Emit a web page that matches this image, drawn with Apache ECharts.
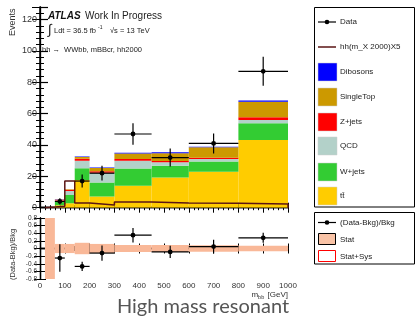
<!DOCTYPE html>
<html>
<head>
<meta charset="utf-8">
<script src="https://cdn.jsdelivr.net/npm/echarts@6/dist/echarts.min.js"></script>
<style>
  html, body { margin: 0; padding: 0; background: #fff; }
  #chart { width: 416px; height: 321px; }
</style>
</head>
<body>
<div id="chart"></div>
<script>
// bin edges in m_bb [GeV]
const binEdges = [20, 60, 100, 140, 200, 300, 450, 600, 800, 1000]

// background stack, bottom to top (events per bin)
const ttbar     = [0.1, 1.5, 2.8, 17.7, 7.2, 14.0, 19.2, 23.0, 43.2]
const wjets     = [0.1, 2.5, 5.3, 7.5, 8.8, 11.0, 7.6, 6.4, 10.7]
const qcd       = [0.05, 0.6, 2.5, 4.8, 6.3, 5.0, 2.2, 1.7, 2.1]
const zjets     = [0.02, 0.5, 0.9, 1.2, 1.0, 1.0, 0.8, 0.8, 1.7]
const singleTop = [0.02, 0.2, 0.2, 1.2, 2.0, 3.5, 5.0, 6.7, 9.9]
const dibosons  = [0.01, 0.1, 0.1, 0.3, 0.3, 0.5, 0.5, 0.3, 0.7]

// signal hh(m_X 2000) x5
const signal = [0.4, 1.0, 17.0, 3.0, 1.8, 3.7, 3.0, 2.8, 2.4]

// data (null = empty bin)
const dataCounts = [null, 4, null, 17, 22, 47, 32, 41, 87]
const dataErr    = [0, 2.0, 0, 4.1, 4.7, 6.9, 5.7, 6.4, 9.3]

// ratio panel
const ratio      = [null, -0.25, null, -0.47, -0.12, 0.35, -0.09, 0.05, 0.28]
const ratioErr   = [0, 0.36, 0, 0.12, 0.2, 0.19, 0.16, 0.18, 0.13]
const statErr    = [2.0, 0.12, 0.12, 0.15, 0.12, 0.09, 0.09, 0.088, 0.07]

const mainTicks  = [0, 20, 40, 60, 80, 100, 120]
const ratioTicks = [-0.8, -0.6, -0.4, -0.2, 0, 0.2, 0.4, 0.6, 0.8]

const layers = [
  { name: 'tt̄',       values: ttbar,     color: '#ffcc00' },
  { name: 'W+jets',    values: wjets,     color: '#33cc33' },
  { name: 'QCD',       values: qcd,       color: '#b3d1c9' },
  { name: 'Z+jets',    values: zjets,     color: '#ff0000' },
  { name: 'SingleTop', values: singleTop, color: '#cc9900' },
  { name: 'Dibosons',  values: dibosons,  color: '#0000ff' },
]

const FONT = 'Liberation Sans, Arial, sans-serif'

// stacked rectangles
const cum = binEdges.slice(1).map(() => 0)
const stackSeries = layers.map(l => {
  const rows = l.values.map((v, i) => {
    const lo = cum[i]
    cum[i] += v
    return [binEdges[i], binEdges[i + 1], lo, cum[i]]
  })
  return {
    type: 'custom', name: l.name, xAxisIndex: 0, yAxisIndex: 0,
    data: rows, encode: { x: [0, 1], y: [2, 3] }, clip: true,
    renderItem: (params, api) => {
      const a = api.coord([api.value(0), api.value(3)])
      const b = api.coord([api.value(1), api.value(2)])
      return { type: 'rect', shape: { x: a[0], y: a[1], width: b[0] - a[0], height: b[1] - a[1] },
        style: { fill: l.color } }
    },
  }
})

const sigLine = [[binEdges[0], 0]]
signal.forEach((v, i) => sigLine.push([binEdges[i], v]))
sigLine.push([binEdges[binEdges.length - 1], signal[signal.length - 1]])
sigLine.push([binEdges[binEdges.length - 1], 0])

function errorSeries(vals, errs, xi, yi) {
  const rows = []
  vals.forEach((v, i) => {
    if (v == null) return
    rows.push([binEdges[i], binEdges[i + 1], (binEdges[i] + binEdges[i + 1]) / 2, v, errs[i]])
  })
  return {
    type: 'custom', xAxisIndex: xi, yAxisIndex: yi, data: rows, z: 5,
    encode: { x: [0, 1], y: 3 },
    renderItem: (params, api) => {
      const y = api.value(3), e = api.value(4)
      const l = api.coord([api.value(0), y]), r = api.coord([api.value(1), y])
      const t = api.coord([api.value(2), y + e]), b = api.coord([api.value(2), y - e])
      const s = { stroke: '#000', lineWidth: 1.2 }
      return { type: 'group', children: [
        { type: 'line', shape: { x1: l[0], y1: l[1], x2: r[0], y2: r[1] }, style: s },
        { type: 'line', shape: { x1: t[0], y1: t[1], x2: b[0], y2: b[1] }, style: s },
        { type: 'circle', shape: { cx: t[0], cy: l[1], r: 2.4 }, style: { fill: '#000' } },
      ] }
    },
  }
}

const bandRows = statErr.map((e, i) => [binEdges[i], binEdges[i + 1], -e, e])

function xAxis(grid, pos, labels) {
  return {
    gridIndex: grid, type: 'value', position: pos, min: 0, max: 1000, interval: 100,
    axisLine: { lineStyle: { color: '#000', width: 1.3 } },
    axisTick: { inside: true, length: 5, lineStyle: { color: '#000' } },
    minorTick: { show: true, splitNumber: 5, length: 2.5, lineStyle: { color: '#000' } },
    splitLine: { show: false },
    axisLabel: { show: labels, fontSize: 8, color: '#333', fontFamily: FONT, margin: 3,
      formatter: v => String(v) },
  }
}

const option = {
  animation: false,
  backgroundColor: '#fff',
  grid: [
    { left: 40, top: 7, width: 248, height: 200.7 },
    { left: 40, top: 218, width: 248, height: 61 },
  ],
  xAxis: [xAxis(0, 'bottom', false), xAxis(0, 'top', false), xAxis(1, 'bottom', true), xAxis(1, 'top', false)],
  yAxis: [
    { gridIndex: 0, type: 'value', min: 0, max: 128, interval: 20, position: 'left',
      axisLine: { show: true, lineStyle: { color: '#000', width: 1.5 } },
      axisTick: { inside: true, length: 8, lineStyle: { color: '#000', width: 1.2 } },
      minorTick: { show: true, splitNumber: 5, length: 4, lineStyle: { color: '#000' } },
      splitLine: { show: false },
      axisLabel: { fontSize: 9, color: '#333', fontFamily: FONT, margin: 3,
        customValues: mainTicks } },
    { gridIndex: 0, type: 'value', min: 0, max: 128, interval: 20, position: 'right',
      axisLine: { show: true, lineStyle: { color: '#000', width: 1.3 } },
      axisTick: { inside: true, length: 8, lineStyle: { color: '#000' } },
      minorTick: { show: true, splitNumber: 5, length: 4, lineStyle: { color: '#000' } },
      splitLine: { show: false }, axisLabel: { show: false } },
    { gridIndex: 1, type: 'value', min: -0.8, max: 0.8, interval: 0.2, position: 'left',
      axisLine: { show: true, lineStyle: { color: '#000', width: 1.3 } },
      axisTick: { inside: true, length: 6, lineStyle: { color: '#000' } },
      splitLine: { show: false },
      axisLabel: { fontSize: 6.5, color: '#333', fontFamily: FONT, margin: 3,
        customValues: ratioTicks, formatter: v => String(Math.round(v * 10) / 10) } },
    { gridIndex: 1, type: 'value', min: -0.8, max: 0.8, interval: 0.2, position: 'right',
      axisLine: { show: true, lineStyle: { color: '#000', width: 1.3 } },
      axisTick: { inside: true, length: 6, lineStyle: { color: '#000' } },
      splitLine: { show: false }, axisLabel: { show: false } },
  ],
  series: [
    ...stackSeries,
    { type: 'line', name: 'hh(m_X 2000)X5', xAxisIndex: 0, yAxisIndex: 0, data: sigLine,
      step: 'end', symbol: 'none', z: 4, lineStyle: { color: '#5a1414', width: 1.5 } },
    errorSeries(dataCounts, dataErr, 0, 0),
    { type: 'custom', name: 'Stat', xAxisIndex: 2, yAxisIndex: 2, data: bandRows, clip: true,
      encode: { x: [0, 1], y: [2, 3] },
      renderItem: (params, api) => {
        const a = api.coord([api.value(0), api.value(3)])
        const b = api.coord([api.value(1), api.value(2)])
        return { type: 'rect', shape: { x: a[0], y: a[1], width: b[0] - a[0], height: b[1] - a[1] },
          style: { fill: '#f9b898' } }
      } },
    errorSeries(ratio, ratioErr, 2, 2),
  ],
  graphic: [],
}

// texts
const g = option.graphic
const txt = (x, y, text, extra) => g.push({ type: 'text', x, y, style: Object.assign(
  { text, fontFamily: FONT, fontSize: 8, fill: '#222' }, extra) })

txt(48, 11, 'ATLAS', { fontSize: 10, fontWeight: 'bold', fontStyle: 'italic', fill: '#111' })
txt(85, 11, 'Work In Progress', { fontSize: 10, fill: '#222' })
txt(48, 23, '∫', { fontSize: 14, fill: '#222' })
txt(54, 27, 'Ldt = 36.5 fb', { fontSize: 7.5 })
txt(98, 25, '-1', { fontSize: 5 })
txt(110, 27, '√s = 13 TeV', { fontSize: 7.5 })
txt(42, 46, 'hh →  WWbb, mBBcr, hh2000', { fontSize: 7.5 })
g.push({ type: 'text', x: 8, y: 36, rotation: Math.PI / 2,
  style: { text: 'Events', fontFamily: FONT, fontSize: 9, fill: '#333' } })
g.push({ type: 'text', x: 9, y: 280, rotation: Math.PI / 2,
  style: { text: '(Data-Bkg)/Bkg', fontFamily: FONT, fontSize: 7.5, fill: '#333' } })
g.push({ type: 'text', x: 288, y: 289, style: {
  text: '{m|m}{s|bb} {m|[GeV]}', align: 'right', fontFamily: FONT,
  rich: { m: { fontSize: 8, fill: '#333', fontFamily: FONT }, s: { fontSize: 5.5, fill: '#333', fontFamily: FONT, padding: [5, 0, 0, 0] } } } })
g.push({ type: 'text', x: 203, y: 297, style: {
  text: 'High mass resonant', align: 'center', fontFamily: 'Lato, Open Sans, sans-serif', fontSize: 20, fill: '#555' } })

// legend 1
g.push({ type: 'rect', shape: { x: 314.5, y: 7.5, width: 100, height: 199.5 }, style: { fill: '#fff', stroke: '#000', lineWidth: 1 } })
const legY = [22, 47, 72, 97, 122, 146, 172, 196]
g.push({ type: 'line', shape: { x1: 318, y1: legY[0], x2: 336, y2: legY[0] }, style: { stroke: '#000', lineWidth: 1.2 } })
g.push({ type: 'circle', shape: { cx: 327, cy: legY[0], r: 2.3 }, style: { fill: '#000' } })
txt(340, legY[0] - 4, 'Data')
g.push({ type: 'line', shape: { x1: 318, y1: legY[1], x2: 336, y2: legY[1] }, style: { stroke: '#5a1414', lineWidth: 1.5 } })
txt(340, legY[1] - 4, 'hh(m_X 2000)X5')
layers.slice().reverse().forEach((l, k) => {
  const y = legY[k + 2]
  g.push({ type: 'rect', shape: { x: 318, y: y - 9, width: 19, height: 18 }, style: { fill: l.color, stroke: '#ccc', lineWidth: 0.5 } })
  txt(340, y - 4, l.name)
})

// legend 2
g.push({ type: 'rect', shape: { x: 314.5, y: 212.5, width: 100, height: 51.5 }, style: { fill: '#fff', stroke: '#000', lineWidth: 1 } })
g.push({ type: 'line', shape: { x1: 318, y1: 222.5, x2: 336, y2: 222.5 }, style: { stroke: '#000', lineWidth: 1.2 } })
g.push({ type: 'circle', shape: { cx: 327, cy: 222.5, r: 2.3 }, style: { fill: '#000' } })
txt(340, 218.5, '(Data-Bkg)/Bkg')
g.push({ type: 'rect', shape: { x: 318.5, y: 233.5, width: 17, height: 11 }, style: { fill: '#f9c3a6', stroke: '#000', lineWidth: 1 } })
txt(340, 235.5, 'Stat')
g.push({ type: 'rect', shape: { x: 318.5, y: 250.5, width: 17, height: 11 }, style: { fill: '#fff', stroke: '#ff0000', lineWidth: 1 } })
txt(340, 252.5, 'Stat+Sys')

const chart = echarts.init(document.getElementById('chart'), null, { renderer: 'canvas' })
chart.setOption(option)
</script>
</body>
</html>
